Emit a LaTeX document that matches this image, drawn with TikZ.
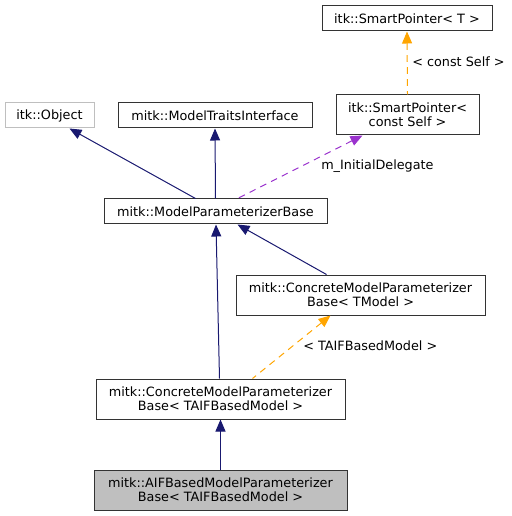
\documentclass[tikz,border=0pt]{standalone}
\usepackage{fontspec}
\setmainfont{DejaVu Sans}
\usetikzlibrary{arrows.meta, calc}

\definecolor{edgeblue}{HTML}{191970}
\definecolor{edgepurple}{HTML}{9A32CD}
\definecolor{edgeorange}{HTML}{FFA500}
\definecolor{boxgray}{HTML}{BFBFBF}

\begin{document}
\begin{tikzpicture}[
    x=0.75pt, y=-0.75pt,
    font=\fontsize{9.6}{10.7}\selectfont,
    cls/.style={rectangle, draw=black!80, line width=0.75pt, fill=white, inner sep=0pt, minimum height=18.75pt, align=center},
    cls2/.style={cls, minimum height=30pt},
    inherit/.style={{Triangle[length=9pt, width=7.5pt]}-, line width=0.75pt, edgeblue},
    usage/.style={{Triangle[length=9pt, width=7.5pt]}-, line width=0.75pt, edgepurple, dash pattern=on 5pt off 4pt},
    templ/.style={{Triangle[length=9pt, width=7.5pt]}-, line width=0.75pt, edgeorange, dash pattern=on 5pt off 4pt},
    lbl/.style={inner sep=0pt, anchor=west}
]
\useasboundingbox (0,0) rectangle (511,516);

% obere Reihe
\node[cls, minimum width=127.5pt] (spt) at (407,18.5) {itk::SmartPointer< T >};
\node[cls, draw=boxgray, minimum width=66.75pt] (obj) at (49.5,115.5) {itk::Object};
\node[cls, minimum width=145.5pt] (mti) at (215,115.5) {mitk::ModelTraitsInterface};
\node[cls2, minimum width=107.25pt] (spc) at (407.5,115) {itk::SmartPointer<\\const Self >};

% Basisklasse
\node[cls, minimum width=167.25pt] (mpb) at (215.5,211.5) {mitk::ModelParameterizerBase};

% Templates
\node[cls2, minimum width=186.75pt] (cmt) at (360.5,295) {mitk::ConcreteModelParameterizer\\Base< TModel >};
\node[cls2, minimum width=186.75pt] (cma) at (220.5,399) {mitk::ConcreteModelParameterizer\\Base< TAIFBasedModel >};
\node[cls2, fill=boxgray, minimum width=189.75pt] (aif) at (220.5,490) {mitk::AIFBasedModelParameterizer\\Base< TAIFBasedModel >};

% Kanten
\draw[inherit] ($(obj.south)+(20,0)$) -- ($(mpb.north)+(-20,0)$);
\draw[inherit] (mti.south) -- (mpb.north);
\draw[usage] ($(spc.south)+(-45,0)$) -- ($(mpb.north)+(22,0)$);
\draw[templ] (spt.south) -- (spc.north);
\draw[inherit] ($(mpb.south)+(22,0)$) -- ($(cmt.north)+(-34,0)$);
\draw[inherit] ($(mpb.south)+(0.5,0)$) -- ($(cma.north)+(-1,0)$);
\draw[templ] ($(cmt.south)+(-30,0)$) -- ($(cma.north)+(32,0)$);
\draw[inherit] (cma.south) -- (aif.north);

% Beschriftungen
\node[lbl] (lsp) at (412,62) {< const Self >};
\node[lbl] (ldel) at (321,166) {m\_InitialDelegate};
\node[lbl] (ltaif) at (303,346) {< TAIFBasedModel >};

\end{tikzpicture}
\end{document}
